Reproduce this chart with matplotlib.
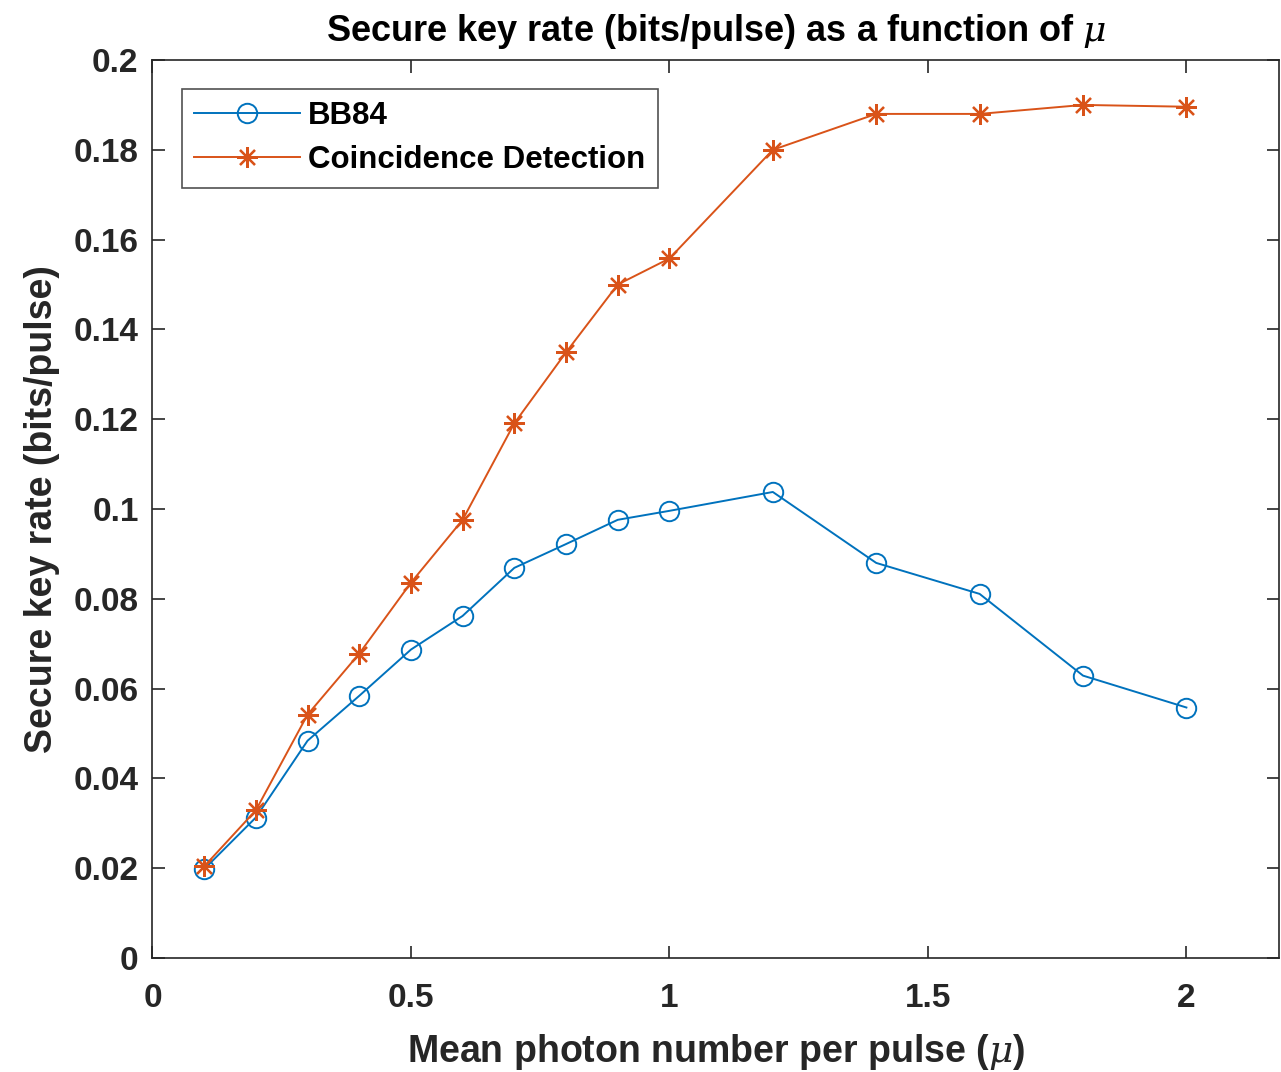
import matplotlib
matplotlib.use("Agg")
import matplotlib.pyplot as plt

plt.rcParams['font.family'] = ['Liberation Sans', 'DejaVu Sans']
plt.rcParams['mathtext.fontset'] = 'dejavuserif'

# mean photon number per pulse
mu = [0.1, 0.2, 0.3, 0.4, 0.5, 0.6, 0.7, 0.8, 0.9, 1.0, 1.2, 1.4, 1.6, 1.8, 2.0]
bb84 = [0.0198, 0.0313, 0.0484, 0.0584, 0.0687, 0.0762, 0.0869, 0.0922,
        0.0976, 0.0996, 0.1038, 0.0880, 0.0811, 0.0629, 0.0558]
coinc = [0.0204, 0.0329, 0.0542, 0.0678, 0.0836, 0.0976, 0.1191, 0.1349,
         0.1500, 0.1558, 0.1800, 0.1880, 0.1880, 0.1900, 0.1896]

xticks = [0, 0.5, 1, 1.5, 2]
yticks = [0, 0.02, 0.04, 0.06, 0.08, 0.1, 0.12, 0.14, 0.16, 0.18, 0.2]

blue = '#0072BD'
orange = '#D95319'
axcol = '#262626'

fig = plt.figure(figsize=(12.81, 10.72), dpi=100)
ax = fig.add_axes([0.119, 0.1063, 0.8798, 0.8377])

ax.plot(mu, bb84, color=blue, lw=1.4, marker='o', ms=14, mfc='none', mew=1.4,
        label='BB84')
ax.plot(mu, coinc, color=orange, lw=1.4, marker=(8, 2, 0), ms=15, mew=1.6,
        label='Coincidence Detection')

ax.set_xlim(0, 2.18)
ax.set_ylim(0, 0.2)
ax.set_xticks(xticks)
ax.set_xticklabels(['0', '0.5', '1', '1.5', '2'])
ax.set_yticks(yticks)
ax.set_yticklabels(['0', '0.02', '0.04', '0.06', '0.08', '0.1', '0.12',
                    '0.14', '0.16', '0.18', '0.2'])

for s in ax.spines.values():
    s.set_color(axcol)
    s.set_linewidth(1.2)
ax.tick_params(direction='in', length=9, width=1.2, colors=axcol,
               top=True, right=True, labelsize=24)
ax.tick_params(axis='x', pad=18)
ax.tick_params(axis='y', pad=10)
for lab in ax.get_xticklabels() + ax.get_yticklabels():
    lab.set_fontweight('bold')

ax.set_title(r'Secure key rate (bits/pulse) as a function of $\mu$',
             fontsize=26, fontweight='bold', color='black', pad=14)
ax.set_xlabel(r'Mean photon number per pulse ($\mu$)', fontsize=27,
              fontweight='bold', color=axcol, labelpad=13)
ax.set_ylabel('Secure key rate (bits/pulse)', fontsize=27,
              fontweight='bold', color=axcol, labelpad=10)

leg = ax.legend(loc='upper left', bbox_to_anchor=(0.026, 0.968),
                prop={'weight': 'bold', 'size': 22.5}, frameon=True, fancybox=False,
                edgecolor=axcol, handlelength=3.4, borderpad=0.4,
                labelspacing=0.45, handletextpad=0.25, borderaxespad=0)
leg.get_frame().set_linewidth(1.2)

fig.savefig('out.png', dpi=100)
